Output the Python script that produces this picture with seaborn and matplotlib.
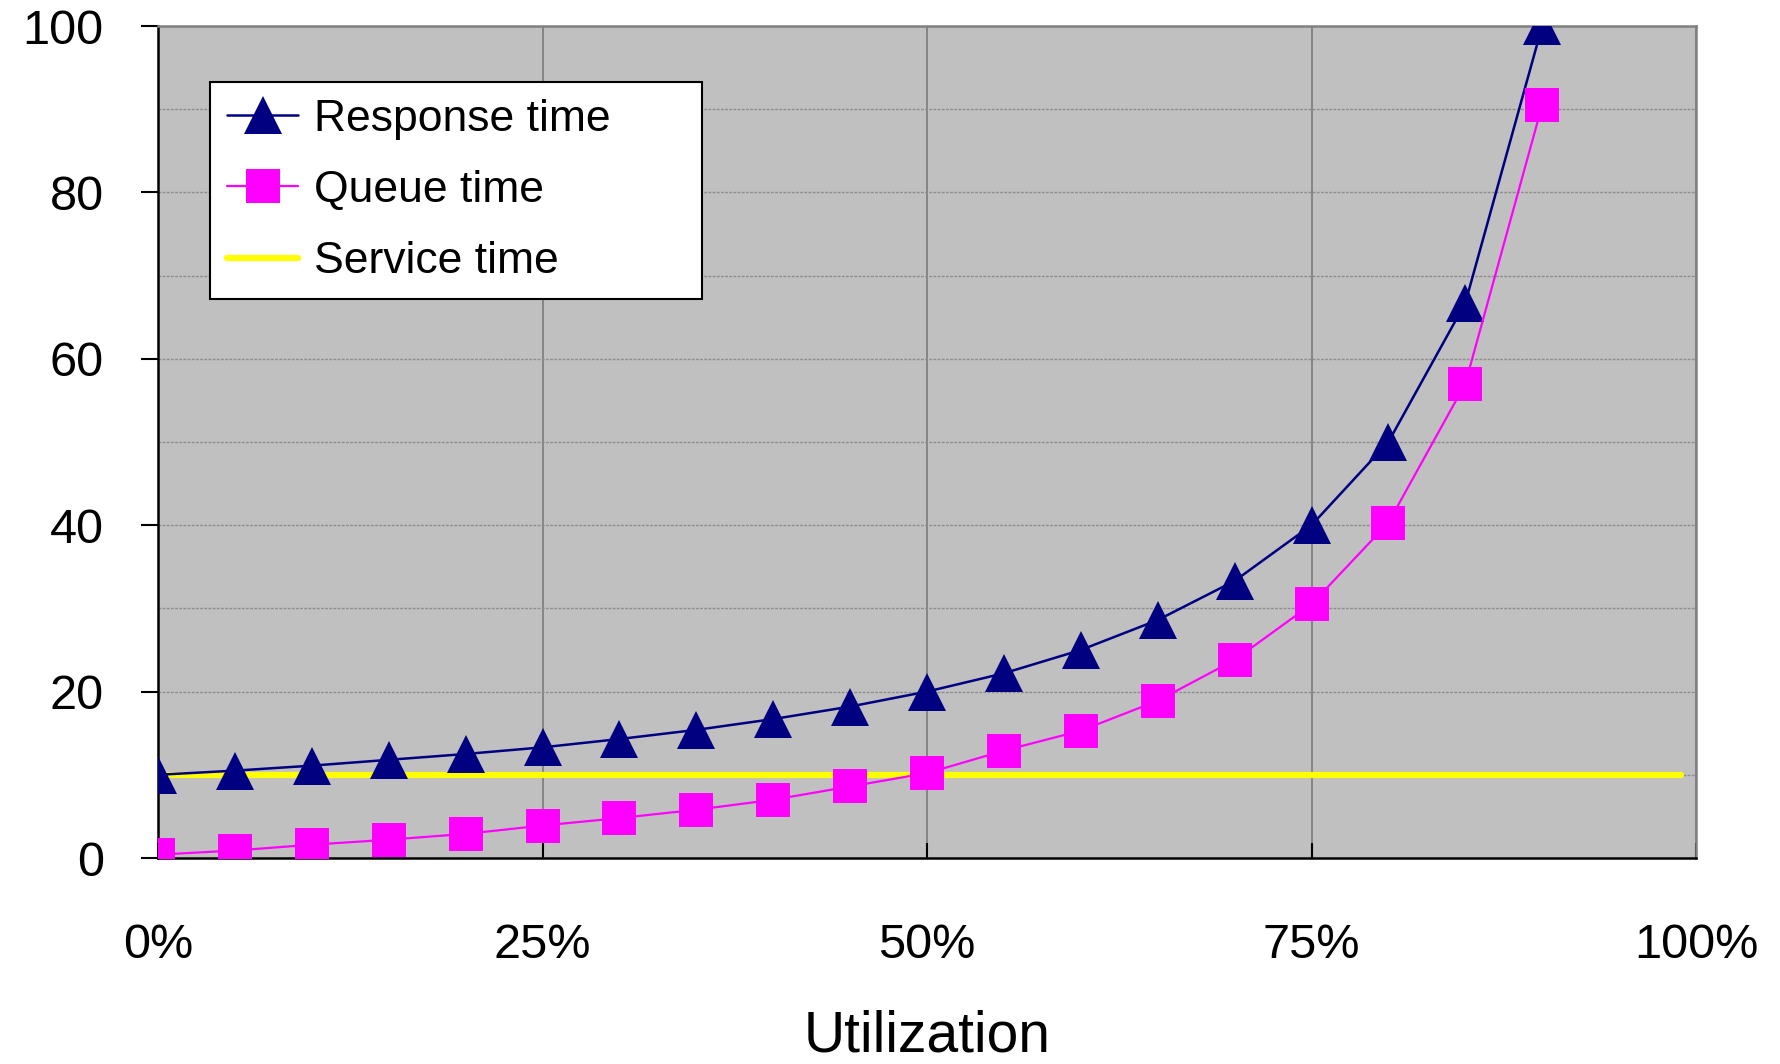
import matplotlib
matplotlib.use("Agg")
import matplotlib.pyplot as plt
import seaborn as sns
from matplotlib.ticker import FixedLocator, MultipleLocator

# Utilization levels (fraction of capacity)
utilization = [0.00, 0.05, 0.10, 0.15, 0.20, 0.25, 0.30, 0.35, 0.40, 0.45,
               0.50, 0.55, 0.60, 0.65, 0.70, 0.75, 0.80, 0.85, 0.90]

# Response time at each utilization level
response_time = [10.0, 10.5, 11.1, 11.8, 12.5, 13.3, 14.3, 15.4, 16.7, 18.2,
                 20.0, 22.2, 25.0, 28.6, 33.3, 40.0, 50.0, 66.7, 100.0]

# Queue time at each utilization level
queue_time = [0.4, 0.9, 1.6, 2.2, 2.9, 3.9, 4.8, 5.8, 7.0, 8.6,
              10.2, 12.9, 15.3, 18.9, 23.8, 30.5, 40.3, 57.0, 90.5]

# Constant service time
service_x = [0.0, 0.99]
service_time = [10.0, 10.0]

x_ticks = [0.0, 0.25, 0.50, 0.75, 1.00]
x_tick_labels = ["0%", "25%", "50%", "75%", "100%"]
y_ticks = [0, 20, 40, 60, 80, 100]
y_tick_labels = ["0", "20", "40", "60", "80", "100"]

sns.set_theme(style="white")
plt.rcParams["font.family"] = ["Liberation Sans", "DejaVu Sans"]
plt.rcParams["text.color"] = "black"
plt.rcParams["axes.labelcolor"] = "black"
plt.rcParams["xtick.color"] = "black"
plt.rcParams["ytick.color"] = "black"

fig = plt.figure(figsize=(17.8, 10.64), dpi=100)
ax = fig.add_axes([158 / 1780, 1 - 858 / 1064, (1696 - 158) / 1780, (858 - 26) / 1064])
ax.set_facecolor("#C0C0C0")

sns.lineplot(x=utilization, y=response_time, ax=ax, color="#000080", linewidth=1.8,
             marker="^", markersize=27, markeredgewidth=0, label="Response time",
             zorder=4, sort=False)
sns.lineplot(x=utilization, y=queue_time, ax=ax, color="#FF00FF", linewidth=1.6,
             marker="s", markersize=25, markeredgewidth=0, label="Queue time",
             zorder=4, sort=False)
sns.lineplot(x=service_x, y=service_time, ax=ax, color="#FFFF00", linewidth=4.5,
             label="Service time", zorder=3, sort=False)

ax.set_xlim(0, 1)
ax.set_ylim(0, 100)

ax.xaxis.set_major_locator(FixedLocator(x_ticks))
ax.set_xticklabels(x_tick_labels)
ax.yaxis.set_major_locator(FixedLocator(y_ticks))
ax.set_yticklabels(y_tick_labels)
ax.yaxis.set_minor_locator(MultipleLocator(10))

ax.grid(True, which="major", axis="x", color="#808080", linewidth=1.3)
ax.grid(True, which="both", axis="y", color="#8C8C8C", linewidth=1.0, linestyle=(0, (2, 1)))
ax.set_axisbelow(True)

ax.tick_params(axis="y", which="major", direction="out", length=12, width=1.5,
               color="black", labelcolor="black", labelsize=35, pad=27, left=True)
ax.tick_params(axis="y", which="minor", length=0)
ax.tick_params(axis="x", which="major", direction="in", length=11, width=1.5,
               color="black", labelcolor="black", labelsize=35, pad=47, bottom=True)

for side in ("left", "bottom"):
    ax.spines[side].set_color("black")
    ax.spines[side].set_linewidth(1.8)
for side in ("top", "right"):
    ax.spines[side].set_color("#808080")
    ax.spines[side].set_linewidth(1.8)

ax.set_xlabel("Utilization", fontsize=41, labelpad=30, color="black")
ax.set_ylabel("")

# Legend box spans a fixed width in the upper-left of the plot area
leg = ax.legend(loc="upper left", bbox_to_anchor=(0.034, 0.933, 0.32, 0.0),
                mode="expand", fontsize=32,
                frameon=True, fancybox=False, framealpha=1, edgecolor="black",
                handlelength=1.6, handletextpad=0.35, labelspacing=0.68,
                borderpad=0.38, borderaxespad=0)
leg.get_frame().set_linewidth(1.5)

fig.savefig("out.png", dpi=100)
